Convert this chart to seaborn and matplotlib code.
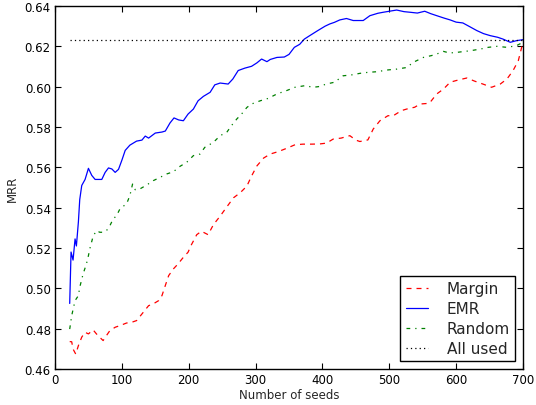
import matplotlib
matplotlib.use("Agg")
import matplotlib.pyplot as plt
import seaborn as sns
import pandas as pd

# ---- data ----
emr_x = [22, 24, 27, 30, 32, 35, 37, 40, 45, 50, 55, 60, 65, 70, 75, 80, 85, 90, 95, 100,
         105, 112, 122, 130, 135, 140, 150, 160, 165, 172, 178, 185, 192, 199, 207, 214,
         222, 232, 239, 247, 259, 266, 274, 284, 294, 302, 309, 317, 322, 332, 343, 350,
         358, 366, 373, 381, 393, 404, 411, 418, 426, 436, 446, 461, 471, 483, 491, 511,
         522, 531, 542, 553, 562, 571, 582, 591, 600, 610, 620, 631, 641, 651, 662, 670,
         681, 690, 700]
emr_y = [0.4925, 0.518, 0.514, 0.5245, 0.521, 0.533, 0.544, 0.551, 0.554, 0.5595, 0.556,
         0.554, 0.554, 0.554, 0.5575, 0.5597, 0.5592, 0.5575, 0.559, 0.5635, 0.5684, 0.571,
         0.573, 0.5735, 0.5755, 0.5745, 0.577, 0.5775, 0.578, 0.582, 0.5845, 0.5835, 0.5831,
         0.5864, 0.5889, 0.593, 0.5952, 0.5972, 0.6009, 0.6018, 0.6013, 0.6038, 0.608,
         0.6092, 0.6101, 0.6118, 0.6137, 0.6124, 0.6135, 0.6145, 0.6147, 0.616, 0.6195,
         0.621, 0.6236, 0.6253, 0.6278, 0.630, 0.6311, 0.6319, 0.6331, 0.6338, 0.6328,
         0.6328, 0.6352, 0.6364, 0.6369, 0.638, 0.6372, 0.6369, 0.6365, 0.6374, 0.6362,
         0.6352, 0.634, 0.6331, 0.632, 0.6316, 0.6298, 0.6278, 0.6263, 0.6253, 0.6245,
         0.6236, 0.622, 0.6228, 0.6233]

random_x = [22, 25, 30, 35, 37, 42, 47, 50, 52, 57, 62, 67, 72, 77, 82, 87, 92, 97, 102,
            107, 112, 116, 120, 127, 137, 147, 157, 167, 177, 187, 197, 207, 217, 224, 237,
            247, 257, 264, 272, 279, 287, 294, 307, 319, 332, 346, 359, 374, 386, 394, 406,
            418, 431, 443, 456, 468, 481, 498, 511, 526, 536, 551, 563, 571, 581, 590, 601,
            613, 621, 637, 648, 661, 676, 690, 700]
random_y = [0.4798, 0.4865, 0.4939, 0.4964, 0.5005, 0.5071, 0.5121, 0.5162, 0.5195, 0.5258,
            0.5286, 0.5278, 0.5278, 0.5286, 0.531, 0.5344, 0.536, 0.5393, 0.5407, 0.5418,
            0.546, 0.5517, 0.5489, 0.5493, 0.5512, 0.5534, 0.555, 0.5567, 0.5578, 0.5605,
            0.5625, 0.5658, 0.5666, 0.5699, 0.5724, 0.5757, 0.5774, 0.5807, 0.584, 0.5864,
            0.5897, 0.5914, 0.593, 0.5942, 0.5964, 0.598, 0.5997, 0.6005, 0.5997, 0.600,
            0.6013, 0.6022, 0.6054, 0.6058, 0.6066, 0.6071, 0.6074, 0.6083, 0.6087, 0.6095,
            0.6121, 0.6145, 0.6154, 0.6162, 0.6175, 0.6167, 0.617, 0.6175, 0.6178, 0.6187,
            0.6195, 0.620, 0.6195, 0.6203, 0.622]

margin_x = [22, 25, 27, 31, 35, 40, 45, 50, 57, 62, 67, 72, 77, 82, 90, 97, 107, 115, 122,
            132, 140, 147, 155, 160, 165, 170, 177, 184, 192, 199, 204, 212, 219, 229, 237,
            247, 257, 267, 277, 287, 294, 302, 312, 322, 334, 347, 359, 371, 384, 396, 406,
            416, 428, 441, 450, 456, 468, 476, 486, 498, 506, 518, 526, 538, 546, 558, 561,
            571, 581, 591, 603, 616, 628, 640, 653, 666, 676, 685, 693, 698, 700]
margin_y = [0.4736, 0.4735, 0.4699, 0.4674, 0.4716, 0.4758, 0.4782, 0.4774, 0.4794, 0.4774,
            0.4757, 0.4741, 0.4766, 0.479, 0.4807, 0.4815, 0.4828, 0.4832, 0.484, 0.4881,
            0.4914, 0.4923, 0.4939, 0.4964, 0.5014, 0.5063, 0.5096, 0.5121, 0.5154, 0.5179,
            0.5216, 0.5266, 0.5283, 0.5266, 0.5316, 0.5358, 0.5404, 0.5449, 0.5474, 0.5507,
            0.5557, 0.5607, 0.5646, 0.5666, 0.5678, 0.5695, 0.5712, 0.5715, 0.5715, 0.5716,
            0.572, 0.574, 0.5745, 0.5757, 0.5735, 0.5728, 0.5736, 0.579, 0.5831, 0.5856,
            0.5856, 0.5881, 0.5889, 0.5898, 0.5914, 0.5917, 0.5922, 0.5964, 0.5988, 0.6022,
            0.6033, 0.6043, 0.6027, 0.6013, 0.5997, 0.6013, 0.6038, 0.6079, 0.6129, 0.6195,
            0.621]

allused_x = [22, 700]
allused_y = [0.623, 0.623]

x_ticks = [0, 100, 200, 300, 400, 500, 600, 700]
y_ticks = [0.46, 0.48, 0.50, 0.52, 0.54, 0.56, 0.58, 0.60, 0.62, 0.64]
x_label = "Number of seeds"
y_label = "MRR"

# ---- style ----
sns.set_style("ticks")
plt.rcParams.update({
    "font.family": ["DejaVu Sans"],
    "xtick.direction": "in",
    "ytick.direction": "in",
    "xtick.top": True,
    "ytick.right": True,
    "xtick.major.size": 4,
    "ytick.major.size": 4,
    "axes.edgecolor": "black",
    "axes.linewidth": 1.0,
    "xtick.color": "black",
    "ytick.color": "black",
})

fig = plt.figure(figsize=(5.36, 4.06), dpi=100)
ax = fig.add_axes([55 / 536, 1 - 370 / 406, 468 / 536, 363 / 406])

series = [
    ("Margin", margin_x, margin_y, "red", (0, (4, 4))),
    ("EMR", emr_x, emr_y, "blue", "-"),
    ("Random", random_x, random_y, "green", (0, (3, 4, 1, 4))),
    ("All used", allused_x, allused_y, "black", (0, (1, 2.5))),
]
for name, xs, ys, col, ls in series:
    df = pd.DataFrame({"x": xs, "y": ys})
    sns.lineplot(data=df, x="x", y="y", ax=ax, color=col, linestyle=ls,
                 linewidth=0.9, label=name, estimator=None, sort=False)

ax.set_xlim(0, 700)
ax.set_ylim(0.46, 0.64)
ax.set_xticks(x_ticks)
ax.set_yticks(y_ticks)
ax.set_yticklabels([f"{v:.2f}" for v in y_ticks])
ax.tick_params(labelsize=8.5, pad=3)
ax.set_xlabel(x_label, fontsize=8.5, labelpad=1)
ax.set_ylabel(y_label, fontsize=8.5, labelpad=4)

leg = ax.legend(loc="lower right", fontsize=11, frameon=True, fancybox=False,
                framealpha=1, edgecolor="black", handlelength=1.5,
                handletextpad=1.2, labelspacing=0.33, borderpad=0.35,
                borderaxespad=0.5)
leg.get_frame().set_linewidth(1.0)

fig.savefig("out.png", dpi=100)
